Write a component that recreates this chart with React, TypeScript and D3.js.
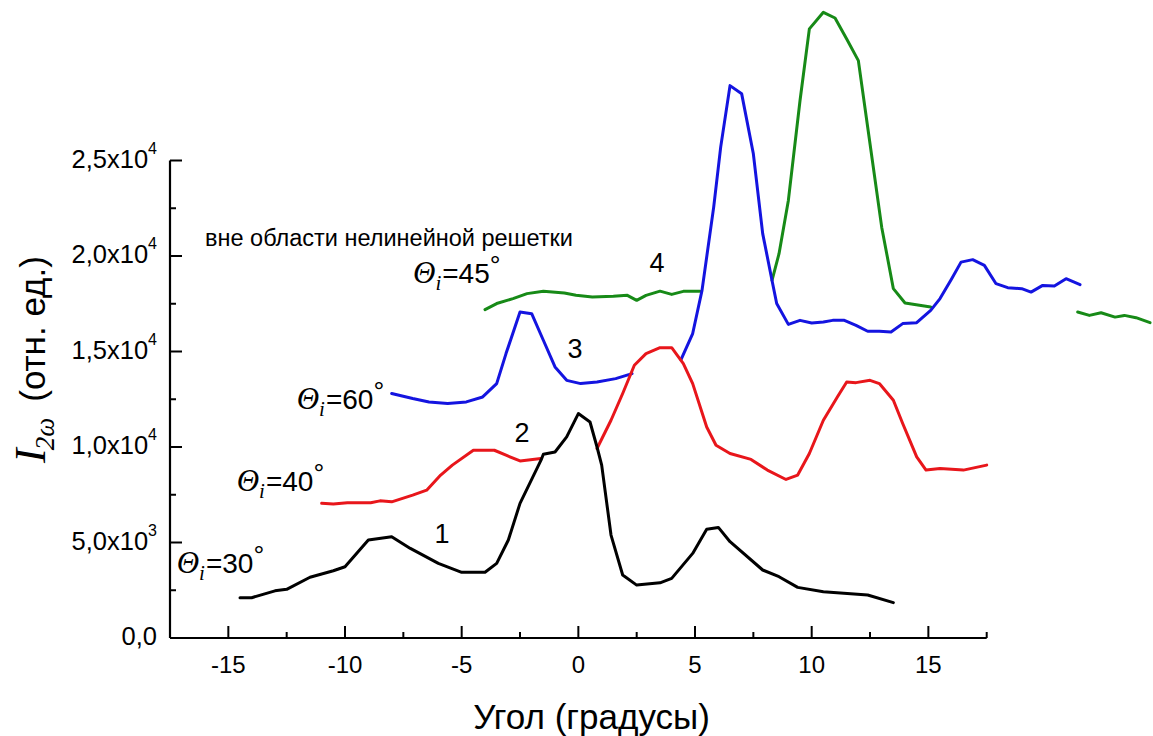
import React from "react";
import * as d3 from "d3";

// ---- Data ----
// null values mark gaps in a curve
const curve1Angle = [-14.5, -14.0, -13.0, -12.5, -11.5, -10.5, -10.0, -9.0, -8.0, -7.2, -6.0, -5.0, -4.0, -3.5, -3.0, -2.5, -1.6, -1.5, -1.0, -0.5, 0, 0.5, 0.8, 1.0, 1.4, 1.9, 2.5, 3.5, 4.0, 4.9, 5.5, 6.0, 6.5, 7.9, 8.6, 9.4, 10.5, 12.4, 13.5];
const curve1Value = [2110, 2110, 2470, 2550, 3180, 3520, 3730, 5130, 5300, 4690, 3910, 3440, 3440, 3910, 5130, 7050, 9310, 9620, 9740, 10530, 11750, 11310, 10000, 9050, 5390, 3300, 2770, 2890, 3120, 4430, 5690, 5790, 5040, 3560, 3210, 2650, 2420, 2250, 1850];

const curve2Angle = [-11.0, -10.5, -9.9, -8.9, -8.5, -8.0, -7.1, -6.5, -5.9, -5.4, -4.5, -3.6, -3.1, -2.5, -1.6, -0.5, 0.8, 1.4, 1.9, 2.4, 2.9, 3.5, 4.0, 4.5, 4.9, 5.5, 5.9, 6.5, 7.4, 8.1, 8.9, 9.4, 9.9, 10.5, 11.1, 11.5, 11.9, 12.5, 12.9, 13.5, 13.9, 14.5, 14.9, 15.5, 16.5, 17.5];
const curve2Value = [7050, 7010, 7080, 7080, 7180, 7130, 7480, 7740, 8530, 9050, 9830, 9830, 9570, 9270, 9400, null, 9920, 11400, 12800, 14280, 14890, 15200, 15200, 14370, 13320, 11050, 10090, 9660, 9350, 8790, 8300, 8530, 9660, 11400, 12620, 13400, 13370, 13490, 13320, 12450, 11230, 9480, 8790, 8880, 8790, 9050];

const curve3Angle = [-8.0, -7.1, -6.4, -5.6, -4.8, -4.1, -3.5, -3.1, -2.5, -2.0, -1.5, -1.0, -0.5, 0.1, 0.8, 1.6, 2.3, 3.3, 4.4, 4.9, 5.3, 5.8, 6.1, 6.5, 7.0, 7.5, 7.9, 8.3, 8.5, 9.0, 9.5, 10.0, 10.5, 10.9, 11.4, 11.9, 12.4, 12.9, 13.4, 13.9, 14.5, 15.1, 15.5, 16.0, 16.4, 16.9, 17.4, 17.9, 18.4, 19.0, 19.4, 19.9, 20.4, 20.9, 21.5];
const curve3Value = [12800, 12540, 12360, 12280, 12360, 12620, 13320, 14890, 17070, 16980, 15590, 14190, 13490, 13320, 13400, 13580, 13840, null, 14580, 15940, 18200, 22560, 25700, 28920, 28490, 25350, 21170, 18720, 17510, 16420, 16630, 16490, 16540, 16630, 16630, 16370, 16060, 16060, 16020, 16460, 16510, 17150, 17770, 18810, 19680, 19810, 19510, 18550, 18340, 18290, 18110, 18460, 18430, 18810, 18500];

const curve4Angle = [-4.0, -3.5, -2.8, -2.2, -1.5, -0.6, -0.1, 0.6, 1.5, 2.1, 2.5, 2.9, 3.5, 4.0, 4.5, 5.2, 6.8, 8.3, 8.6, 9.0, 9.5, 9.9, 10.5, 11.0, 11.5, 12.0, 12.4, 13.0, 13.5, 14.0, 15.1, 18.0, 21.4, 21.9, 22.4, 23.0, 23.4, 23.9, 24.5];
const curve4Value = [17190, 17510, 17770, 18030, 18160, 18060, 17940, 17850, 17890, 17940, 17680, 17940, 18160, 17990, 18150, 18160, null, 18720, 20120, 22910, 28140, 31890, 32760, 32460, 31360, 30230, 26740, 21510, 18290, 17540, 17330, null, 17070, 16890, 17030, 16800, 16890, 16770, 16510];

const xMajorTicks = [-15, -10, -5, 0, 5, 10, 15];
const xMinorTicks = [-12.5, -7.5, -2.5, 2.5, 7.5, 12.5, 17.5];
const yMajorTicks = [0, 5000, 10000, 15000, 20000, 25000];
const yMinorTicks = [2500, 7500, 12500, 17500, 22500];
const yTickMantissa = ["0,0", "5,0", "1,0", "1,5", "2,0", "2,5"];
const yTickExponent = ["", "3", "4", "4", "4", "4"];

const curveColors = ["#000000", "#e8161b", "#1414e0", "#178a17"];

const SANS = "'Liberation Sans', Arial, Helvetica, sans-serif";
const SERIF = "'Liberation Serif', 'Times New Roman', serif";

function ThetaLabel({ x, y, deg }: { x: number; y: number; deg: string }) {
  return (
    <text x={x} y={y} fill="#000">
      <tspan fontFamily={SERIF} fontStyle="italic" fontSize={31}>Θ</tspan>
      <tspan fontFamily={SERIF} fontStyle="italic" fontSize={21} dy={7}>i</tspan>
      <tspan fontFamily={SANS} fontSize={28} dy={-7} dx={1}>={deg}</tspan>
      <tspan fontFamily={SANS} fontSize={27} dy={-8}>°</tspan>
    </text>
  );
}

export default function App() {
  const x = d3.scaleLinear().domain([-17.5, 17.5]).range([170, 986.7]);
  const y = d3.scaleLinear().domain([0, 25000]).range([638, 160.5]);

  const line = d3
    .line<[number, number | null]>()
    .defined((d) => d[1] !== null)
    .x((d) => x(d[0]))
    .y((d) => y(d[1] as number));

  const series: [number[], (number | null)[]][] = [
    [curve4Angle, curve4Value],
    [curve3Angle, curve3Value],
    [curve2Angle, curve2Value],
    [curve1Angle, curve1Value],
  ];
  const colorsInOrder = [curveColors[3], curveColors[2], curveColors[1], curveColors[0]];

  const x0 = x.range()[0];
  const x1 = x.range()[1];
  const yBase = y(0);
  const yTop = y(25000);

  return (
    <svg width={1153} height={736} style={{ position: "absolute", left: 0, top: 0, background: "#fff" }}>
      <rect width={1153} height={736} fill="#fff" />
      {/* curves */}
      {series.map(([ang, val], i) => (
        <path
          key={i}
          d={line(ang.map((a, j) => [a, val[j]] as [number, number | null])) || ""}
          fill="none"
          stroke={colorsInOrder[i]}
          strokeWidth={3}
          strokeLinejoin="round"
          strokeLinecap="round"
        />
      ))}

      {/* axes */}
      <line x1={x0} x2={x1} y1={yBase} y2={yBase} stroke="#000" strokeWidth={2.2} />
      <line x1={x0} x2={x0} y1={yBase} y2={yTop} stroke="#000" strokeWidth={2.2} />
      {xMajorTicks.map((t) => (
        <g key={"xm" + t}>
          <line x1={x(t)} x2={x(t)} y1={yBase} y2={yBase - 12} stroke="#000" strokeWidth={2} />
          <text x={x(t)} y={673} textAnchor="middle" fontFamily={SANS} fontSize={24} fill="#000">
            {t}
          </text>
        </g>
      ))}
      {xMinorTicks.map((t) => (
        <line key={"xn" + t} x1={x(t)} x2={x(t)} y1={yBase} y2={yBase - 6} stroke="#000" strokeWidth={2} />
      ))}
      {yMajorTicks.map((t, i) => (
        <g key={"ym" + t}>
          <line x1={x0} x2={x0 + 12} y1={y(t)} y2={y(t)} stroke="#000" strokeWidth={2} />
          <text x={157} y={y(t) + 7} textAnchor="end" fontFamily={SANS} fontSize={25.5} fill="#000">
            {yTickExponent[i] ? (
              <>
                <tspan>{yTickMantissa[i]}x10</tspan>
                <tspan fontSize={16} dy={-14}>{yTickExponent[i]}</tspan>
              </>
            ) : (
              <tspan>{yTickMantissa[i]}</tspan>
            )}
          </text>
        </g>
      ))}
      {yMinorTicks.map((t) => (
        <line key={"yn" + t} x1={x0} x2={x0 + 6} y1={y(t)} y2={y(t)} stroke="#000" strokeWidth={2} />
      ))}

      {/* axis titles */}
      <text x={591.5} y={729} textAnchor="middle" fontFamily={SANS} fontSize={35} fill="#000">
        Угол (градусы)
      </text>
      <text transform="translate(45,463) rotate(-90)" fill="#000">
        <tspan fontFamily={SERIF} fontStyle="italic" fontSize={44}>I</tspan>
        <tspan fontFamily={SERIF} fontStyle="italic" fontSize={27} dy={9} dx={-2}>2ω</tspan>
        <tspan fontFamily={SANS} fontSize={35} dy={-9} dx={16}>(отн. ед.)</tspan>
      </text>

      {/* annotations */}
      <text x={205} y={246} fontFamily={SANS} fontSize={23.5} fill="#000">
        вне области нелинейной решетки
      </text>
      <ThetaLabel x={176.7} y={573} deg="30" />
      <ThetaLabel x={236.7} y={491} deg="40" />
      <ThetaLabel x={296.7} y={409} deg="60" />
      <ThetaLabel x={413} y={283} deg="45" />
      {[
        ["1", 442, 543],
        ["2", 522, 442],
        ["3", 575, 358],
        ["4", 657, 272],
      ].map(([s, tx, ty]) => (
        <text key={s as string} x={tx as number} y={ty as number} textAnchor="middle" fontFamily={SANS} fontSize={27} fill="#000">
          {s}
        </text>
      ))}
    </svg>
  );
}
